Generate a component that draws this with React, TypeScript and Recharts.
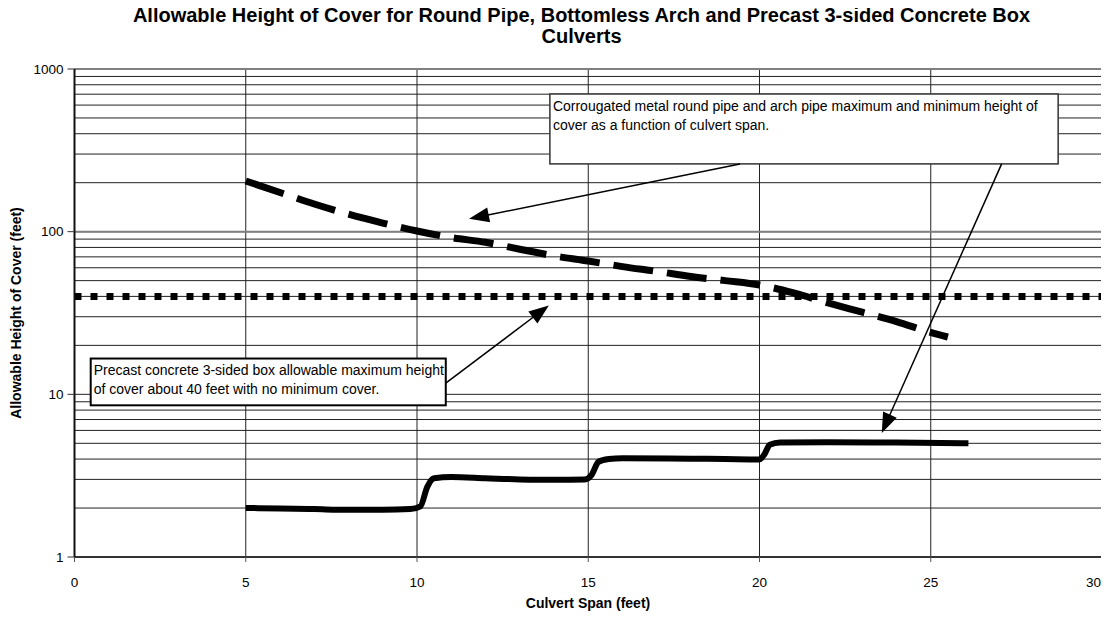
import React from 'react';
import { LineChart, Line, XAxis, YAxis, CartesianGrid, ReferenceLine, ReferenceArea } from 'recharts';

// ---- axis ticks ----
const spanTicks = [0, 5, 10, 15, 20, 25, 30];
const coverMajorTicks = [1, 10, 100, 1000];
const coverMinorTicks = [2, 3, 4, 5, 6, 7, 8, 9, 20, 30, 40, 50, 60, 70, 80, 90, 200, 300, 400, 500, 600, 700, 800, 900];
const coverTicks = [...coverMajorTicks, ...coverMinorTicks].sort((a, b) => a - b);

// ---- series: corrugated metal maximum cover (dashed) ----
const metalMaxSpan = [5, 6, 7, 8, 9, 10, 11, 12, 13, 14, 15, 16, 17, 18, 19, 20, 21, 22, 23, 24, 25, 25.5];
const metalMaxCover = [205, 174, 148, 128, 113, 101, 92, 86, 78, 71, 66, 61, 57, 53, 50, 47, 42, 36.5, 32, 28, 24, 22.5];

// ---- series: corrugated metal minimum cover (solid) ----
const metalMinSpan = [5, 6, 7, 8, 9, 9.8, 10.1, 10.3, 10.5, 11, 12, 13, 14, 14.9, 15.1, 15.3, 15.6, 16, 18, 19, 20, 20.15, 20.3, 20.6, 22, 24, 26.1];
const metalMinCover = [2.0, 1.99, 1.97, 1.95, 1.95, 1.97, 2.05, 2.7, 3.05, 3.1, 3.05, 3.0, 2.98, 3.0, 3.2, 3.85, 4.0, 4.05, 4.02, 4.0, 3.98, 4.3, 4.9, 5.05, 5.08, 5.05, 5.0];

// ---- series: precast 3-sided box maximum cover (dotted) ----
const precastSpan = [0, 30];
const precastCover = [40, 40];

const metalMaxData = metalMaxSpan.map((s, i) => ({ span: s, cover: metalMaxCover[i] }));
const metalMinData = metalMinSpan.map((s, i) => ({ span: s, cover: metalMinCover[i] }));
const precastData = precastSpan.map((s, i) => ({ span: s, cover: precastCover[i] }));

// ---- annotations (data coordinates) ----
const noteBoxes = [
  {
    x1: 13.88, x2: 28.72, y1: 261, y2: 702,
    lines: ['Corrougated metal round pipe and arch pipe maximum and minimum height of', 'cover as a function of culvert span.'],
    border: '#333', bw: 1.5, base1: 17.5, base2: 36.5,
  },
  {
    x1: 0.473, x2: 10.84, y1: 8.56, y2: 16.6,
    lines: ['Precast concrete 3-sided box allowable maximum height', 'of cover about 40 feet with no minimum cover.'],
    border: '#000', bw: 2, base1: 16.5, base2: 35,
  },
];

const noteArrows = [
  { from: { x: 19.43, y: 261 }, to: { x: 11.52, y: 120 } },
  { from: { x: 27.07, y: 261 }, to: { x: 23.57, y: 5.79 } },
  { from: { x: 10.84, y: 11.73 }, to: { x: 13.85, y: 35.2 } },
];

const FONT = "'Liberation Sans', Arial, sans-serif";

const ArrowShape = (props: any) => {
  const { x1, y1, x2, y2 } = props;
  if ([x1, y1, x2, y2].some((v) => typeof v !== 'number' || isNaN(v))) return null;
  const dx = x2 - x1;
  const dy = y2 - y1;
  const len = Math.sqrt(dx * dx + dy * dy) || 1;
  const ux = dx / len;
  const uy = dy / len;
  const L = 20;
  const W = 7.5;
  const bx = x2 - ux * L;
  const by = y2 - uy * L;
  const pts = `${x2},${y2} ${bx - uy * W},${by + ux * W} ${bx + uy * W},${by - ux * W}`;
  return (
    <g>
      <line x1={x1} y1={y1} x2={bx + ux * 2} y2={by + uy * 2} stroke="#000" strokeWidth={1.5} />
      <polygon points={pts} fill="#000" />
    </g>
  );
};

const makeBoxShape = (box: any) => (props: any) => {
  const { x, y, width, height } = props;
  if ([x, y, width, height].some((v) => typeof v !== 'number' || isNaN(v))) return null;
  return (
    <g>
      <rect x={x} y={y} width={width} height={height} fill="#fff" stroke={box.border} strokeWidth={box.bw} />
      <text x={x + 3} y={y + box.base1} fontSize={14} fontFamily={FONT} fill="#000">{box.lines[0]}</text>
      <text x={x + 3} y={y + box.base2} fontSize={14} fontFamily={FONT} fill="#000">{box.lines[1]}</text>
    </g>
  );
};

const majorSet = new Set(coverMajorTicks);
const lastSpan = spanTicks[spanTicks.length - 1];

const CoverTick = (props: any) => {
  const { x, y, payload } = props;
  const v = payload && payload.value;
  if (!majorSet.has(v)) return null;
  return (
    <g>
      <line x1={x + 4} y1={y} x2={x + 11} y2={y} stroke="#333" strokeWidth={1} />
      <text x={x} y={y} dy="0.355em" textAnchor="end" fontSize={13.5} fontFamily={FONT} fill="#000">{v}</text>
    </g>
  );
};

const SpanTick = (props: any) => {
  const { x, y, payload } = props;
  const v = payload && payload.value;
  const isLast = v === lastSpan;
  return (
    <text
      x={isLast ? x - 1 : x}
      y={y}
      dy="0.71em"
      textAnchor={isLast ? 'end' : 'middle'}
      fontSize={13.5}
      fontFamily={FONT}
      fill="#000"
    >
      {v}
    </text>
  );
};

export default function App() {
  return (
    <div style={{ position: 'relative', width: 1109, height: 619, margin: -8, fontFamily: FONT }}>
      <LineChart width={1109} height={619} margin={{ top: 69, right: 7, bottom: 0, left: 0 }}>
        <CartesianGrid stroke="#222" strokeWidth={1} />
        <XAxis
          dataKey="span"
          type="number"
          domain={[0, 30]}
          ticks={spanTicks}
          interval={0}
          allowDataOverflow
          height={62}
          tickSize={5}
          tickMargin={15}
          axisLine={{ stroke: '#333', strokeWidth: 2 }}
          tickLine={{ stroke: '#555' }}
          tick={<SpanTick />}
        />
        <YAxis
          dataKey="cover"
          type="number"
          scale="log"
          domain={[1, 1000]}
          ticks={coverTicks}
          interval={0}
          allowDataOverflow
          width={74.5}
          tickSize={7}
          tickMargin={4}
          tickLine={false}
          axisLine={{ stroke: '#111', strokeWidth: 2 }}
          tick={<CoverTick />}
        />
        <ReferenceLine y={100} stroke="#808080" strokeWidth={2} />
        <ReferenceLine y={1000} stroke="#808080" strokeWidth={2} />
        <ReferenceLine x={30} stroke="#808080" strokeWidth={2} />
        {noteBoxes.map((b, i) => (
          <ReferenceArea key={'box' + i} x1={b.x1} x2={b.x2} y1={b.y1} y2={b.y2} shape={makeBoxShape(b)} />
        ))}
        <Line
          data={precastData}
          dataKey="cover"
          type="linear"
          stroke="#000"
          strokeWidth={7}
          strokeDasharray="7 9"
          dot={false}
          activeDot={false}
          isAnimationActive={false}
        />
        <Line
          data={metalMaxData}
          dataKey="cover"
          type="monotone"
          stroke="#000"
          strokeWidth={7}
          strokeDasharray="40 14"
          dot={false}
          activeDot={false}
          isAnimationActive={false}
        />
        <Line
          data={metalMinData}
          dataKey="cover"
          type="monotone"
          stroke="#000"
          strokeWidth={6}
          dot={false}
          activeDot={false}
          isAnimationActive={false}
        />
        {noteArrows.map((a, i) => (
          <ReferenceLine key={'arrow' + i} segment={[a.from, a.to]} shape={ArrowShape} />
        ))}
      </LineChart>
      <div
        style={{
          position: 'absolute', left: 581.5, top: 5, transform: 'translateX(-50%)', width: 1100,
          textAlign: 'center', fontWeight: 'bold', fontSize: 20, lineHeight: '21px', color: '#000',
        }}
      >
        Allowable Height of Cover for Round Pipe, Bottomless Arch and Precast 3-sided Concrete Box
        <br />
        Culverts
      </div>
      <div
        style={{
          position: 'absolute', left: 16, top: 313, transform: 'translate(-50%, -50%) rotate(-90deg)',
          whiteSpace: 'nowrap', fontWeight: 'bold', fontSize: 14, lineHeight: '16px', color: '#000',
        }}
      >
        Allowable Height of Cover (feet)
      </div>
      <div
        style={{
          position: 'absolute', left: 588, top: 603, transform: 'translate(-50%, -50%)',
          whiteSpace: 'nowrap', fontWeight: 'bold', fontSize: 14, lineHeight: '16px', color: '#000',
        }}
      >
        Culvert Span (feet)
      </div>
    </div>
  );
}
